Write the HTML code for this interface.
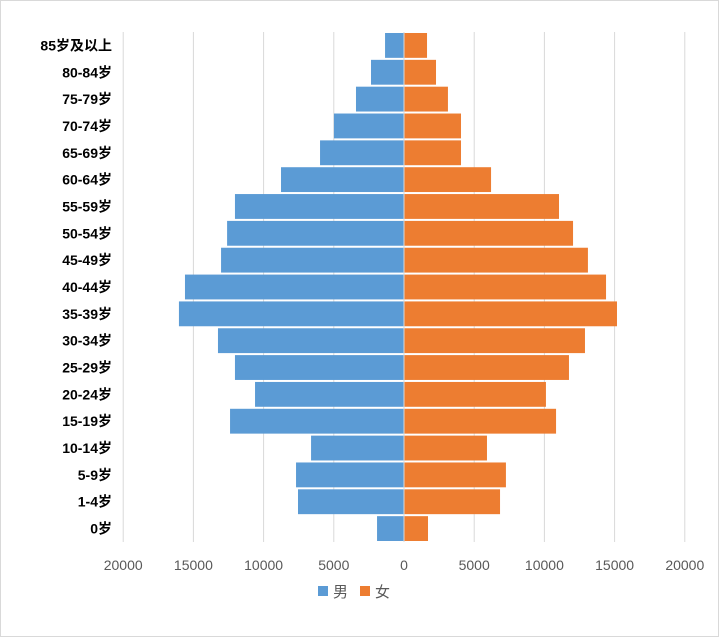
<!DOCTYPE html>
<html><head><meta charset="utf-8"><style>
body{margin:0;background:#fff;}
#c{position:absolute;left:0;top:0;width:717px;height:635px;border:1px solid #d9d9d9;background:#fff;}
svg{position:absolute;left:-1px;top:-1px;}
svg text{font-family:"Liberation Sans","Noto Sans CJK SC",sans-serif;}
</style></head><body>
<div id="c">
<svg id="s" width="719" height="637"></svg>
</div>
<script>
const ageGroups=["85岁及以上","80-84岁","75-79岁","70-74岁","65-69岁","60-64岁","55-59岁","50-54岁","45-49岁","40-44岁","35-39岁","30-34岁","25-29岁","20-24岁","15-19岁","10-14岁","5-9岁","1-4岁","0岁"];
const maleValues=[1350,2350,3420,4990,5980,8760,12040,12600,13030,15600,16030,13250,12040,10610,12390,6620,7690,7550,1920];
const femaleValues=[1640,2280,3130,4060,4060,6200,11040,12040,13100,14390,15170,12890,11750,10110,10830,5910,7260,6840,1710];
const tickValues=[-20000,-15000,-10000,-5000,0,5000,10000,15000,20000];
const tickLabels=["20000","15000","10000","5000","0","5000","10000","15000","20000"];
const NS="http://www.w3.org/2000/svg";
const svgEl=document.getElementById('s');
const x0=404,pxPer=70.2/5000,plotTop=32,plotBottom=542;
const step=(plotBottom-plotTop)/ageGroups.length;
function xs(v){return x0+v*pxPer;}
function ys(i){return plotTop+i*step;}
function mk(t,a){const e=document.createElementNS(NS,t);for(const k in a)e.setAttribute(k,a[k]);svgEl.appendChild(e);return e;}
tickValues.forEach((v,i)=>{
 const g=mk('line',{x1:xs(v),x2:xs(v),y1:plotTop,y2:plotBottom,stroke:'#d9d9d9','stroke-width':1});
 
 
 const t=mk('text',{x:xs(v),y:570,'text-anchor':'middle','font-size':14,fill:'#595959'});
 t.textContent=tickLabels[i];
 
 
});
ageGroups.forEach((a,i)=>{
 const y=ys(i)+1,h=step-2;
 const m=mk('rect',{x:xs(-maleValues[i]),y:y,width:xs(0)-xs(-maleValues[i]),height:h,fill:'#5b9bd5'});
 
 
 const f=mk('rect',{x:xs(0),y:y,width:xs(femaleValues[i])-xs(0),height:h,fill:'#ed7d31'});
 
 
 const t=mk('text',{x:112,y:ys(i)+step/2+5,'text-anchor':'end','font-size':14,'font-weight':'bold',fill:'#000'});
 t.textContent=a;
 
 
});
const ax=mk('line',{x1:x0,x2:x0,y1:plotTop,y2:plotBottom,stroke:'#d9d9d9','stroke-width':1});


const l1=mk('rect',{x:318,y:586,width:10,height:10,fill:'#5b9bd5'});


const lt1=mk('text',{x:333,y:597,'font-size':15,fill:'#595959'});lt1.textContent='男';


const l2=mk('rect',{x:360,y:586,width:10,height:10,fill:'#ed7d31'});


const lt2=mk('text',{x:375,y:597,'font-size':15,fill:'#595959'});lt2.textContent='女';


</script>
</body></html>
